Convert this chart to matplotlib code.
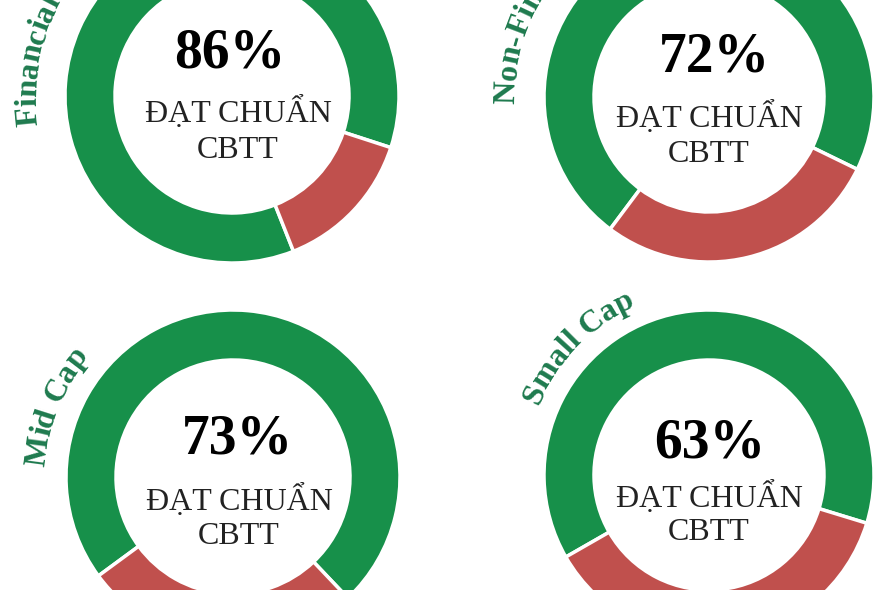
import matplotlib
matplotlib.use("Agg")
import numpy as np
import matplotlib.pyplot as plt
from matplotlib.font_manager import FontProperties

# data
groups = ["Financial", "Non-Financial", "Mid Cap", "Small Cap"]
pct_pass = [86, 72, 73, 63]
center_line1 = "ĐẠT CHUẨN"
center_line2 = "CBTT"

GREEN = "#17904a"
RED = "#c0504d"
LABEL_GREEN = "#1e7a4e"

W, H = 883, 590
RING = 50

# layout in pixels: centre x, centre y (from top), outer radius, start angle,
# label radius, label start angle
layout = [
    (232, 96, 167, -18, 196, 188.5),
    (709, 97, 165, -26, 194, 182),
    (233, 477, 167, -46.5, 188, 177),
    (709, 475, 165, -17, 184, 158),
]
# text offsets from the ring centre: pct (dx, dy), caption dx, line1 dy, line2 dy
text_offsets = [
    (-2, -43, 6, 16, 54),
    (5, -39, 0, 20, 58),
    (4, -38, 6, 23, 60),
    (1, -31, 0, 22, 57),
]

fp_label = FontProperties(family="Liberation Serif", weight="bold", size=23)
fp_pct = FontProperties(family="Liberation Serif", weight="bold", size=40)
fp_txt = FontProperties(family="Liberation Serif", size=23)


def curved_text(ax, text, cx, cy, radius, start_deg, fp, color):
    """Write text clockwise along a circle, one glyph at a time."""
    renderer = ax.figure.canvas.get_renderer()

    def width(s):
        t = ax.text(0, 0, s, fontproperties=fp)
        w = t.get_window_extent(renderer).width
        t.remove()
        return w

    base = width("||")
    pos = 0.0
    for ch in text:
        w = width("|" + ch + "|") - base
        theta = np.radians(start_deg) - (pos + w / 2) / radius
        x = cx + radius * np.cos(theta)
        y = cy + radius * np.sin(theta)
        ax.text(x, y, ch, fontproperties=fp, color=color,
                rotation=np.degrees(theta) - 90, rotation_mode="anchor",
                ha="center", va="baseline")
        pos += w


fig = plt.figure(figsize=(W / 100, H / 100), dpi=100)
ax = fig.add_axes([0, 0, 1, 1])

for p, (cx, cy, r, start, lab_r, lab_start), off in zip(pct_pass, layout, text_offsets):
    yc = H - cy
    ax.pie([p, 100 - p], colors=[GREEN, RED], startangle=start,
           center=(cx, yc), radius=r, frame=True,
           wedgeprops=dict(width=RING, edgecolor="white", linewidth=2.5))
    ax.text(cx + off[0], yc - off[1], f"{p}%", fontproperties=fp_pct, color="black",
            ha="center", va="center")
    ax.text(cx + off[2], yc - off[3], center_line1, fontproperties=fp_txt,
            color="#222222", ha="center", va="center")
    ax.text(cx + off[2], yc - off[4], center_line2, fontproperties=fp_txt,
            color="#222222", ha="center", va="center")

ax.set_xlim(0, W)
ax.set_ylim(0, H)
ax.set_aspect("equal")
ax.axis("off")

for name, (cx, cy, r, start, lab_r, lab_start) in zip(groups, layout):
    curved_text(ax, name, cx, H - cy, lab_r, lab_start, fp_label, LABEL_GREEN)

fig.savefig("out.png", dpi=100, facecolor="white")
